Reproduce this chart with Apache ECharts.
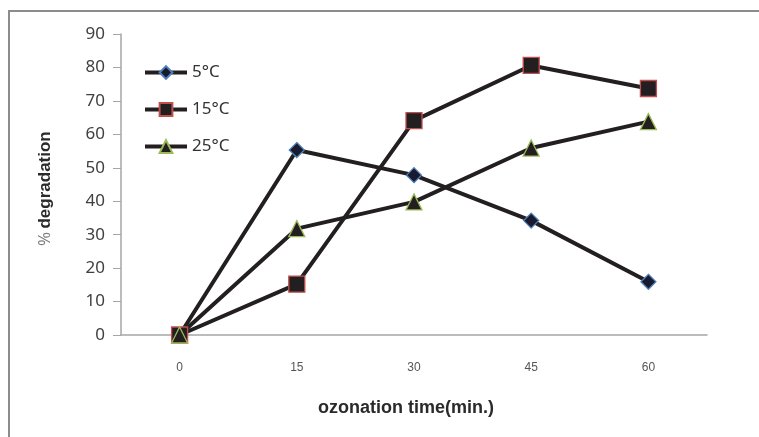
<!DOCTYPE html>
<html><head><meta charset="utf-8">
<script src="https://cdn.jsdelivr.net/npm/echarts@6/dist/echarts.min.js"></script>
<style>html,body{margin:0;padding:0;background:#fff}#c{width:759px;height:437px}</style>
</head><body><div id="c"></div>
<script>
const categories = ['0','15','30','45','60'];
const s5 = [0, 55.3, 47.8, 34.2, 15.9];
const s15 = [0, 15.2, 64.1, 80.6, 73.7];
const s25 = [0, 31.8, 39.8, 55.9, 63.8];
const yTicks = {min: 0, max: 90, step: 10};

const chart = echarts.init(document.getElementById('c'));
const lineCol = '#231f20';
function ser(name, data, symbol, size, fill, border) {
  return {
    name, type: 'line', data, symbol, symbolSize: size,
    lineStyle: {color: lineCol, width: 4},
    itemStyle: {color: fill, borderColor: border, borderWidth: 1.3},
    emphasis: {disabled: true}, z: 3
  };
}
chart.setOption({
  animation: false,
  graphic: [{
    type: 'rect', shape: {x: 9, y: 11, width: 800, height: 500},
    style: {fill: 'none', stroke: '#8c8c8c', lineWidth: 2}, silent: true
  }, {
    type: 'text', x: 37, y: 246, rotation: Math.PI / 2, silent: true,
    style: {
      text: '{a|%} {b|degradation}',
      rich: {
        a: {fontFamily: 'Noto Sans', fontSize: 17, fill: '#7f7f7f'},
        b: {fontFamily: 'Liberation Sans', fontSize: 17, fontWeight: 'bold', fill: '#2a2a2a'}
      }
    }
  }, {
    type: 'text', x: 406, y: 408, silent: true,
    style: {
      text: 'ozonation time(min.)', align: 'center', verticalAlign: 'middle',
      fontFamily: 'Liberation Sans', fontSize: 18, fontWeight: 'bold', fill: '#2a2a2a'
    }
  }],
  grid: {left: 121, right: 52, top: 34, bottom: 102},
  legend: {
    orient: 'vertical', left: 143, top: 64, padding: 0, itemWidth: 42, itemHeight: 16, itemGap: 20,
    lineStyle: {width: 4, color: lineCol},
    textStyle: {fontFamily: 'Noto Sans', fontSize: 17, color: '#333'},
    data: ['5°C', '15°C', '25°C']
  },
  xAxis: {
    type: 'category', data: categories, boundaryGap: true,
    axisLine: {lineStyle: {color: '#a6a6a6', width: 1.5}},
    axisTick: {show: false},
    axisLabel: {margin: 27, fontFamily: 'Liberation Sans', fontSize: 12, color: '#555'}
  },
  yAxis: {
    type: 'value', min: yTicks.min, max: yTicks.max, interval: yTicks.step,
    axisLine: {show: true, lineStyle: {color: '#a6a6a6', width: 1.5}},
    axisTick: {show: true, length: 8, lineStyle: {color: '#a6a6a6'}},
    splitLine: {show: false},
    axisLabel: {margin: 16, fontFamily: 'Noto Sans', fontSize: 17, color: '#404040'}
  },
  series: [
    ser('5°C', s5, 'diamond', 15, '#1a1a2e', '#4f81bd'),
    ser('15°C', s15, 'rect', 16, '#231f20', '#c0504d'),
    ser('25°C', s25, 'triangle', 16, '#231f20', '#9bbb59')
  ]
});
</script></body></html>
